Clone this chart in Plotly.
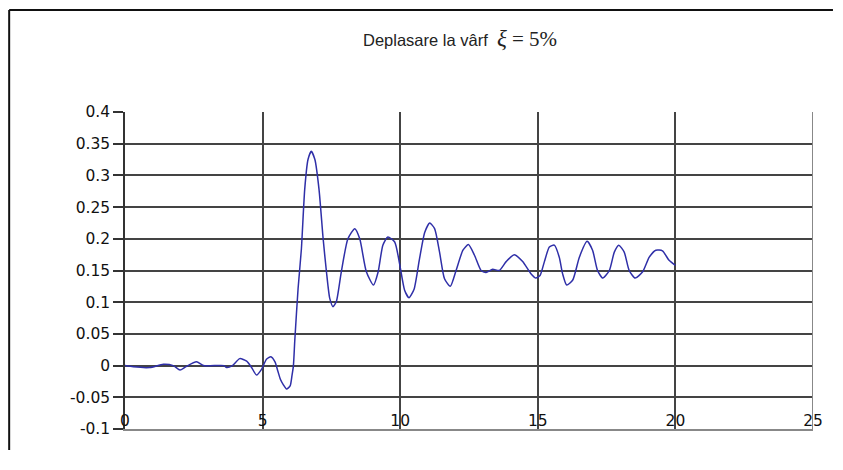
import plotly.graph_objects as go

# time (s) and top displacement (m)
t = [0, 0.3, 0.9, 1.39, 1.75, 2.0, 2.2, 2.6, 2.85, 3.6, 3.69, 3.9, 4.17, 4.42, 4.6, 4.78,
     4.96, 5.14, 5.3, 5.45, 5.55, 5.65, 5.75, 5.87, 6.0, 6.07, 6.12, 6.17, 6.29, 6.41, 6.53,
     6.65, 6.77, 6.9, 7.05, 7.2, 7.32, 7.44, 7.56, 7.68, 7.86, 8.1, 8.35, 8.53, 8.77, 9.03,
     9.2, 9.37, 9.55, 9.8, 9.98, 10.16, 10.32, 10.5, 10.7, 10.89, 11.07, 11.25, 11.43, 11.61,
     11.82, 12.03, 12.28, 12.48, 12.7, 12.94, 13.12, 13.36, 13.6, 13.85, 14.15, 14.45, 14.75,
     14.93, 15.08, 15.24, 15.42, 15.6, 15.78, 15.9, 16.05, 16.27, 16.51, 16.79, 16.99, 17.17,
     17.36, 17.6, 17.78, 17.94, 18.14, 18.32, 18.54, 18.81, 19.05, 19.29, 19.53, 19.77, 20.0]
v = [0, -0.002, -0.003, 0.002, 0.0, -0.007, -0.002, 0.006, 0.0, 0.0, -0.003, 0.0, 0.011, 0.007,
     -0.003, -0.015, -0.006, 0.01, 0.014, 0.006, -0.008, -0.022, -0.03, -0.037, -0.032, -0.015,
     0.0, 0.04, 0.122, 0.184, 0.278, 0.325, 0.338, 0.325, 0.278, 0.2, 0.148, 0.106, 0.093,
     0.101, 0.148, 0.2, 0.216, 0.2, 0.148, 0.127, 0.148, 0.19, 0.203, 0.195, 0.16, 0.119, 0.107,
     0.12, 0.168, 0.21, 0.225, 0.216, 0.179, 0.137, 0.125, 0.15, 0.182, 0.191, 0.174, 0.15,
     0.147, 0.152, 0.15, 0.164, 0.175, 0.164, 0.145, 0.138, 0.142, 0.164, 0.187, 0.19, 0.171,
     0.145, 0.127, 0.135, 0.171, 0.196, 0.182, 0.15, 0.138, 0.15, 0.179, 0.19, 0.179, 0.15,
     0.138, 0.148, 0.171, 0.182, 0.181, 0.166, 0.158]

x_ticks = [0, 5, 10, 15, 20, 25]
x_labels = ["0", "5", "10", "15", "20", "25"]
y_ticks = [0.4, 0.35, 0.3, 0.25, 0.2, 0.15, 0.1, 0.05, 0, -0.05, -0.1]
y_labels = ["0.4", "0.35", "0.3", "0.25", "0.2", "0.15", "0.1", "0.05", "0", "-0.05", "-0.1"]

fig = go.Figure()
fig.add_trace(go.Scatter(x=t, y=v, mode="lines",
                         line=dict(color="#2f2fa8", width=1.5, shape="spline", smoothing=0.6),
                         showlegend=False, hoverinfo="skip"))

# the page body adds an 8px margin; keep the figure small enough to avoid scrollbars
OFF = 8
W, H = 843 - 2 * OFF, 470 - 2 * OFF - 12
L, T = 125 - OFF, 112 - OFF
R = W - (814 - OFF)
B = H - (432 - OFF)
pw, ph = W - L - R, H - T - B

def px_to_paper(px, py):
    # px, py given in page pixels
    fx, fy = px - OFF, py - OFF
    return (fx - L) / pw, (H - B - fy) / ph

fx0, fy1 = px_to_paper(9, 9)
fx1, fy0 = px_to_paper(834, 460)

tick_font = dict(family="DejaVu Sans, sans-serif", size=15.5, color="#111")

fig.update_layout(
    width=W, height=H,
    margin=dict(l=L, r=R, t=T, b=B),
    paper_bgcolor="white", plot_bgcolor="white",
    font=dict(family="Liberation Sans, Arial, sans-serif", size=15, color="#111"),
    xaxis=dict(range=[0, 25], tickvals=x_ticks, ticktext=x_labels,
               showgrid=True, gridcolor="#444", gridwidth=1.5,
               zeroline=False, showline=True, linecolor="#888", linewidth=2,
               ticks="", ticklabelposition="inside", ticklabeloverflow="allow",
               tickfont=tick_font),
    yaxis=dict(range=[-0.1, 0.4], tickvals=y_ticks, ticktext=y_labels,
               showgrid=True, gridcolor="#444", gridwidth=1.5,
               zeroline=False, showline=True, linecolor="#333", linewidth=1.5,
               ticks="outside", ticklen=10, tickcolor="#333", tickwidth=1.5,
               tickfont=tick_font),
    shapes=[
        dict(type="line", xref="paper", yref="paper", x0=fx0, x1=fx1, y0=fy1, y1=fy1,
             line=dict(color="#111", width=2), layer="below"),
        dict(type="line", xref="paper", yref="paper", x0=fx0, x1=fx0, y0=fy0, y1=fy1,
             line=dict(color="#111", width=2), layer="below"),
        dict(type="line", xref="x", yref="paper", x0=25, x1=25, y0=0, y1=1,
             line=dict(color="#888", width=2)),
    ],
)

tx, ty = px_to_paper(460, 38)
fig.add_annotation(
    xref="paper", yref="paper", x=tx, y=ty, xanchor="center", yanchor="middle",
    showarrow=False,
    text=("Deplasare la vârf  "
          "<span style='font-family:Liberation Serif, serif;font-style:italic;font-size:23px'>ξ</span>"
          "<span style='font-family:Liberation Serif, serif;font-size:21px'> = 5%</span>"),
    font=dict(size=16.5, color="#222"),
)

fig.write_html("out.html")
